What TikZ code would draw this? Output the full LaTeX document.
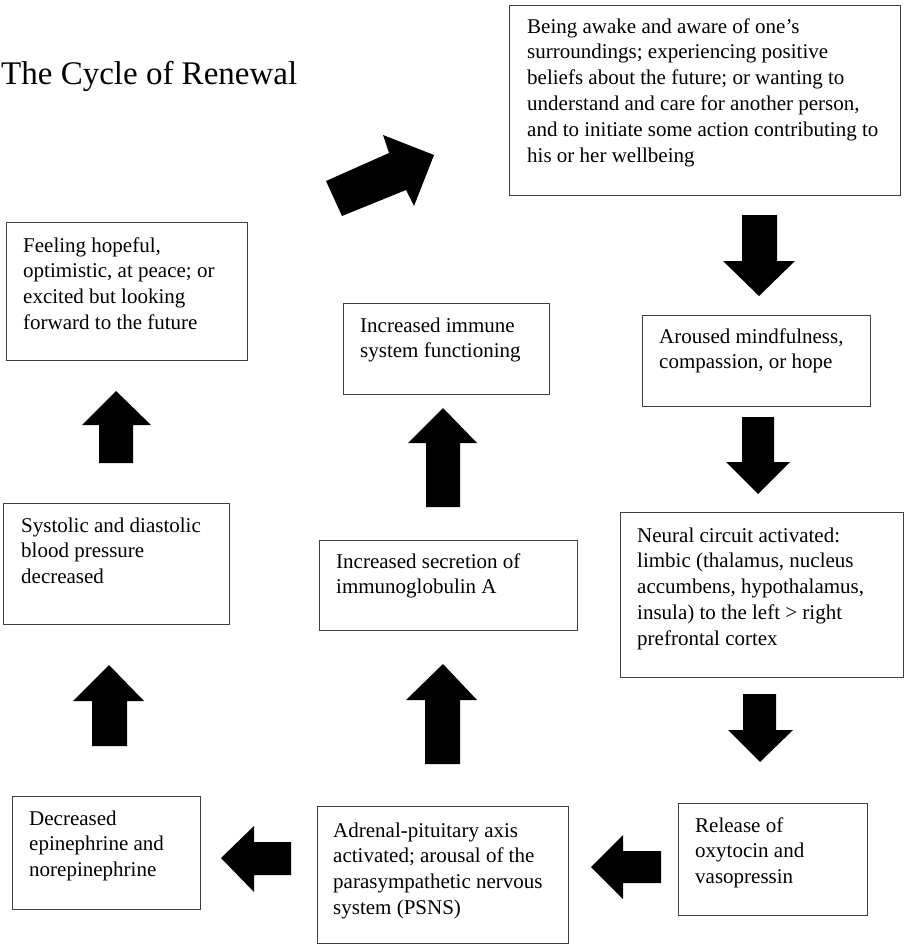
\documentclass[tikz,border=0pt]{standalone}
\usepackage{fontspec}
\setmainfont{Liberation Serif}
\begin{document}
\begin{tikzpicture}[x=1pt,y=-1pt,
  box/.style={draw=black!75, line width=1.1pt, anchor=north west, inner sep=0pt},
  txt/.style={anchor=north west, inner sep=0pt, align=left, font=\fontsize{21}{25.8}\selectfont},
  blockarrow/.style={fill=black, draw=none}]
\useasboundingbox (0,0) rectangle (905,944);

% title
\node[anchor=base west, inner sep=0pt, font=\fontsize{33}{40}\selectfont] (title) at (1,85) {The Cycle of Renewal};

% boxes
\node[box, minimum width=391pt, minimum height=190pt] (b1) at (509,5) {};
\node[box, minimum width=241pt, minimum height=138pt] (b2) at (6,222) {};
\node[box, minimum width=206pt, minimum height=91pt] (b3) at (343,303) {};
\node[box, minimum width=228pt, minimum height=91pt] (b4) at (642,315) {};
\node[box, minimum width=283pt, minimum height=165pt] (b5) at (620,512) {};
\node[box, minimum width=189pt, minimum height=112pt] (b6) at (678,803) {};
\node[box, minimum width=251pt, minimum height=137pt] (b7) at (317,806) {};
\node[box, minimum width=188pt, minimum height=113pt] (b8) at (12,796) {};
\node[box, minimum width=226pt, minimum height=121pt] (b9) at (3,503) {};
\node[box, minimum width=258pt, minimum height=90pt] (b10) at (319,540) {};

% texts (first baseline at box top + ~29)
\node[txt] (t1) at ([shift={(18pt,-9.8pt)}]b1.north west) {\strut Being awake and aware of one’s\\surroundings; experiencing positive\\beliefs about the future; or wanting to\\understand and care for another person,\\and to initiate some action contributing to\\his or her wellbeing};
\node[txt] (t2) at ([shift={(17pt,-11.8pt)}]b2.north west) {\strut Feeling hopeful,\\optimistic, at peace; or\\excited but looking\\forward to the future};
\node[txt] (t3) at ([shift={(17pt,-10.8pt)}]b3.north west) {\strut Increased immune\\system functioning};
\node[txt] (t4) at ([shift={(17pt,-9.8pt)}]b4.north west) {\strut Aroused mindfulness,\\compassion, or hope};
\node[txt] (t5) at ([shift={(17pt,-11.8pt)}]b5.north west) {\strut Neural circuit activated:\\limbic (thalamus, nucleus\\accumbens, hypothalamus,\\insula) to the left > right\\prefrontal cortex};
\node[txt] (t6) at ([shift={(17pt,-10.8pt)}]b6.north west) {\strut Release of\\oxytocin and\\vasopressin};
\node[txt] (t7) at ([shift={(16pt,-12.8pt)}]b7.north west) {\strut Adrenal-pituitary axis\\activated; arousal of the\\parasympathetic nervous\\system (PSNS)};
\node[txt] (t8) at ([shift={(17pt,-10.8pt)}]b8.north west) {\strut Decreased\\epinephrine and\\norepinephrine};
\node[txt] (t9) at ([shift={(18pt,-10.8pt)}]b9.north west) {\strut Systolic and diastolic\\blood pressure\\decreased};
\node[txt] (t10) at ([shift={(17pt,-9.8pt)}]b10.north west) {\strut Increased secretion of\\immunoglobulin A};

% block arrows
% b2 -> b1 (diagonal)
\fill[blockarrow] (326,181) -- (389,153) -- (383,135) -- (434,155) -- (414,206) -- (406,190) -- (342,216) -- cycle;
% b1 -> b4
\fill[blockarrow] (742,215) -- (742,261) -- (723,261) -- (759,296) -- (795,261) -- (777,261) -- (777,215) -- cycle;
% b4 -> b5
\fill[blockarrow] (742,417) -- (742,462) -- (726,462) -- (758,494) -- (790,462) -- (774,462) -- (774,417) -- cycle;
% b5 -> b6
\fill[blockarrow] (743,694) -- (743,730) -- (728,730) -- (760,762) -- (793,730) -- (776,730) -- (776,694) -- cycle;
% b6 -> b7
\fill[blockarrow] (661,851) -- (623,851) -- (623,835) -- (591,867) -- (623,899) -- (623,883) -- (661,883) -- cycle;
% b7 -> b8
\fill[blockarrow] (291,842) -- (254,842) -- (254,826) -- (221,858) -- (254,892) -- (254,875) -- (291,875) -- cycle;
% b8 -> b9
\fill[blockarrow] (92,746) -- (92,701) -- (73,701) -- (109,665) -- (144,701) -- (127,701) -- (127,746) -- cycle;
% b9 -> b2
\fill[blockarrow] (99,463) -- (99,425) -- (82,425) -- (116,391) -- (151,425) -- (133,425) -- (133,463) -- cycle;
% b7 -> b10
\fill[blockarrow] (425,764) -- (425,700) -- (406,700) -- (443,664) -- (477,700) -- (460,700) -- (460,764) -- cycle;
% b10 -> b3
\fill[blockarrow] (426,507) -- (426,443) -- (408,443) -- (443,408) -- (477,443) -- (460,443) -- (460,507) -- cycle;
\end{tikzpicture}
\end{document}
